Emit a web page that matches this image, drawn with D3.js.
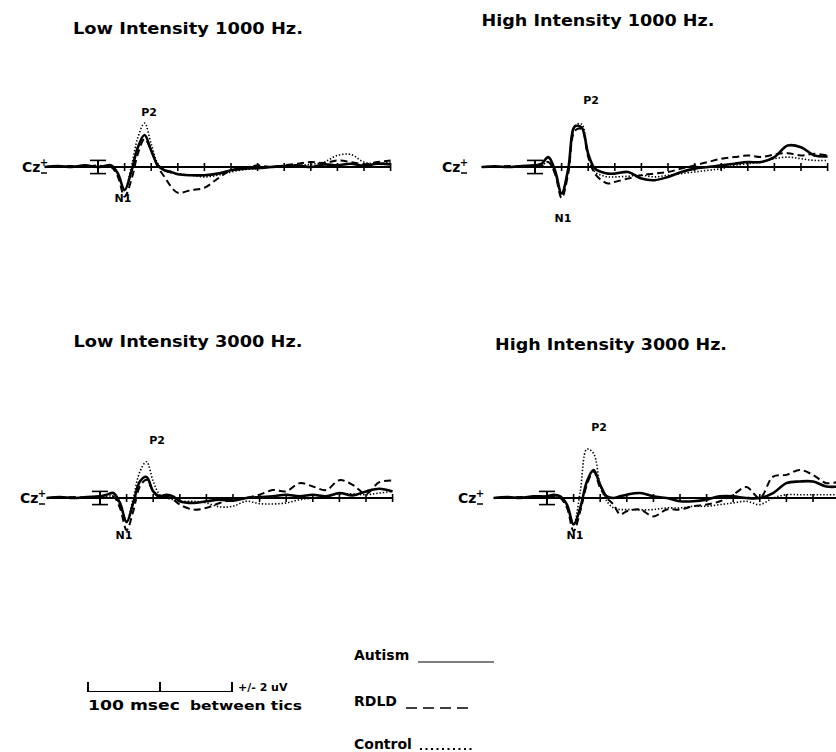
<!DOCTYPE html>
<html><head><meta charset="utf-8">
<script src="https://cdn.jsdelivr.net/npm/d3@7"></script>
<style>
body{margin:0;background:#fff}
svg{display:block}
text{font-family:"DejaVu Sans",sans-serif;font-weight:bold;fill:#000}
</style>
</head><body>
<svg id="c" width="836" height="752"></svg>
<script>
// ---- data (ms, µV; positive up) ----
const times = [-200,-150,-100,-50,0,25,50,75,100,125,150,175,200,225,250,275,300,350,400,450,500,550,600,650,700,750,800,850,900,950,1000,1050,1100];
const tickTimes = [100,200,300,400,500,600,700,800,900,1000,1100];
const panelTitles = ["Low Intensity 1000 Hz.","High Intensity 1000 Hz.","Low Intensity 3000 Hz.","High Intensity 3000 Hz."];
const groupNames = ["Autism","RDLD","Control"];

const lo1000_autism  = [0,0.3,0,0.5,0,0.3,0.5,-2,-7,-1.5,6,9.7,5,0.5,-1,-1.5,-2.2,-2.5,-2.5,-2,-1,-0.5,-0.3,0,0.3,0.5,0,0.8,0.5,1,0.3,1,0.8];
const lo1000_rdld    = [0,0.2,0.3,0,0.5,0,0,-3,-9,-4,4,8.5,5,0,-3,-6,-7.8,-7,-6.3,-3.5,-1,-0.5,0.5,0,0.5,1,1.5,1.2,2,1.5,0.8,1.5,2];
const lo1000_control = [0,0,0.3,0,0.3,0,0.3,-2,-7,0,9,13.3,7,1,-1,-1.8,-2,-2.5,-3,-2.5,-1.5,-0.8,-0.5,0,0.3,0.5,0.8,1.5,3.5,3.8,1.5,1,1.5];

const hi1000_autism  = [0,0.2,0,0.3,0.5,1,3,-1,-8,-0.5,12.3,12,4,-0.5,-1.5,-2,-2,-1.5,-3.5,-4,-3,-1.5,-0.5,0,0.5,1,1.5,1.5,3,6.5,6,3.5,3.2];
const hi1000_rdld    = [0,0,0.3,0,0.5,0.5,1.5,-2,-9.4,-2,11,11.5,3,-2,-4,-5,-4.5,-3.5,-2.5,-2,-1.5,-0.5,0.5,1.5,2.5,3,3.5,3,3.8,4.2,3.5,4,3.5];
const hi1000_control = [0,0,0,0.3,0,0.5,1.5,-2,-8,-0.5,12.5,13,4,-1.5,-2.5,-3,-3,-2.8,-2.5,-3,-2.5,-2,-1.5,-1,-0.5,0.5,1,1.5,2.5,3,2.5,2,2];

const lo3000_autism  = [0,0.3,0,0.3,0.5,1,1.5,-1.5,-7.3,-1.5,5,6.4,2,0.5,1,0.5,-1,-1.5,-1,-0.5,-0.8,0,0.3,0.5,1,0.5,1,0.5,1.5,0.8,2,2.8,2];
const lo3000_rdld    = [0,0,0.3,0,0.5,0,0.5,-3,-9.7,-4,3.5,5.5,2,0,0.5,-0.5,-2,-3.5,-3,-1.5,-0.5,0,1,2.4,2,4.5,3.5,2.4,5.4,4,1.3,4.8,5.3];
const lo3000_control = [0,0,0,0.3,0,0.5,0.5,-2,-7,0,8,11,5,1,0,-0.5,-1,-1,-1.5,-2.7,-2.5,-1,-1.7,-1.8,-1.5,-0.5,0,0.5,1.3,1.2,1,1.5,2];

const hi3000_autism  = [0,0.3,0,0.5,0.5,1,0.5,-2,-8,-3,5,8.5,4,0.5,0,0.5,1,1.5,0.5,0,-1,-1,-0.5,0.5,0.5,0,0,1.5,4.5,5,5,3.5,3.5];
const hi3000_rdld    = [0,0,0.3,0,0.5,0.3,0,-3,-10,-4,4,8,3,0,-2,-5,-4,-3.5,-5.6,-3.5,-3.5,-2.5,-2,-1,1,3.3,0,6.5,7,8.5,7,4.5,5];
const hi3000_control = [0,0,0,0.3,0,0.5,0,-2,-8,2,14.8,13.5,4,-1,-3,-3.5,-3.5,-3.6,-3.5,-3,-3,-2.5,-2.5,-2,-1.5,-1,-2,0,1,1,1,1,1];

const panelSeries = [
  [lo1000_autism, lo1000_rdld, lo1000_control],
  [hi1000_autism, hi1000_rdld, hi1000_control],
  [lo3000_autism, lo3000_rdld, lo3000_control],
  [hi3000_autism, hi3000_rdld, hi3000_control]
];

// ---- layout ----
const layout = [
  {m:98,  y0:167, title:[188,34],  tw:230, cz:22,  p2:[149,116], n1:[123,202]},
  {m:535, y0:167, title:[598,26],  tw:233, cz:442, p2:[591,104], n1:[563,222]},
  {m:100, y0:498, title:[188,347], tw:229, cz:20,  p2:[157,444], n1:[124,539]},
  {m:547, y0:498, title:[611,350], tw:232, cz:458, p2:[599,431], n1:[575,539]}
];
const pxPerMs = 0.266, pxPerUv = 3.3;
const styles = [
  {w:2.6, dash:null},
  {w:2.0, dash:"7,4"},
  {w:1.6, dash:"1.4,1.9"}
];

const svg = d3.select("#c");
svg.append("rect").attr("width",836).attr("height",752).attr("fill","#fff");

layout.forEach((L,i)=>{
  const g = svg.append("g");
  const x = d3.scaleLinear().domain([-200,1100]).range([L.m-200*pxPerMs, L.m+1100*pxPerMs]);
  const y = d3.scaleLinear().domain([-10,15]).range([L.y0+10*pxPerUv, L.y0-15*pxPerUv]);

  g.append("text").attr("x",L.title[0]).attr("y",L.title[1]).attr("text-anchor","middle")
    .attr("font-size",15).attr("textLength",L.tw).attr("lengthAdjust","spacingAndGlyphs").text(panelTitles[i]);

  g.append("line").attr("x1",x(-200)).attr("x2",x(1100)).attr("y1",y(0)).attr("y2",y(0))
    .attr("stroke","#000").attr("stroke-width",2);
  g.selectAll(".tk").data(tickTimes).join("line")
    .attr("x1",d=>x(d)).attr("x2",d=>x(d)).attr("y1",y(0)-4).attr("y2",y(0)+4)
    .attr("stroke","#000").attr("stroke-width",1.6);
  g.append("line").attr("x1",x(0)).attr("x2",x(0)).attr("y1",y(2)).attr("y2",y(-2)).attr("stroke","#000").attr("stroke-width",2);
  [2,-2].forEach(v=>g.append("line").attr("x1",x(0)-8).attr("x2",x(0)+8).attr("y1",y(v)).attr("y2",y(v)).attr("stroke","#000").attr("stroke-width",1.6));

  g.append("text").attr("x",L.cz).attr("y",y(0)+5).attr("font-size",14).text("Cz");
  g.append("text").attr("x",L.cz+22).attr("y",y(0)-1).attr("font-size",10).attr("text-anchor","middle").text("+");
  g.append("line").attr("x1",L.cz+19).attr("x2",L.cz+25).attr("y1",y(0)+6).attr("y2",y(0)+6).attr("stroke","#000").attr("stroke-width",1.5);

  const line = d3.line().x((d,k)=>x(times[k])).y(d=>y(d)).curve(d3.curveCatmullRom.alpha(0.5));
  panelSeries[i].forEach((s,j)=>{
    g.append("path").attr("d",line(s)).attr("fill","none").attr("stroke","#000")
      .attr("stroke-width",styles[j].w).attr("stroke-dasharray",styles[j].dash)
      .attr("stroke-linejoin","round");
  });

  g.append("text").attr("x",L.p2[0]).attr("y",L.p2[1]).attr("text-anchor","middle").attr("font-size",11).text("P2");
  g.append("text").attr("x",L.n1[0]).attr("y",L.n1[1]).attr("text-anchor","middle").attr("font-size",11).text("N1");
});

// ---- scale bar ----
const sb = svg.append("g");
[88,160,232].forEach(xx=>sb.append("line").attr("x1",xx).attr("x2",xx).attr("y1",682).attr("y2",692).attr("stroke","#000").attr("stroke-width",2));
sb.append("line").attr("x1",88).attr("x2",232).attr("y1",691.5).attr("y2",691.5).attr("stroke","#000").attr("stroke-width",1);
sb.append("text").attr("x",238).attr("y",691).attr("font-size",11).attr("font-weight","normal").text("+/- 2  uV");
sb.append("text").attr("x",88).attr("y",710).attr("font-size",14).attr("textLength",92).attr("lengthAdjust","spacingAndGlyphs").text("100 msec");
sb.append("text").attr("x",190).attr("y",710).attr("font-size",12).attr("textLength",112).attr("lengthAdjust","spacingAndGlyphs").text("between tics");

// ---- legend ----
const leg = svg.append("g");
const legY = [660,706,749];
groupNames.forEach((n,j)=>{
  leg.append("text").attr("x",354).attr("y",legY[j]).attr("font-size",14).text(n);
});
leg.append("line").attr("x1",418).attr("x2",494).attr("y1",662).attr("y2",662).attr("stroke","#000").attr("stroke-width",1.2);
leg.append("line").attr("x1",406).attr("x2",472).attr("y1",708).attr("y2",708).attr("stroke","#000").attr("stroke-width",1.5).attr("stroke-dasharray","11,6");
leg.append("line").attr("x1",420).attr("x2",474).attr("y1",749).attr("y2",749).attr("stroke","#000").attr("stroke-width",2).attr("stroke-dasharray","2,3.5");
</script>
</body></html>
